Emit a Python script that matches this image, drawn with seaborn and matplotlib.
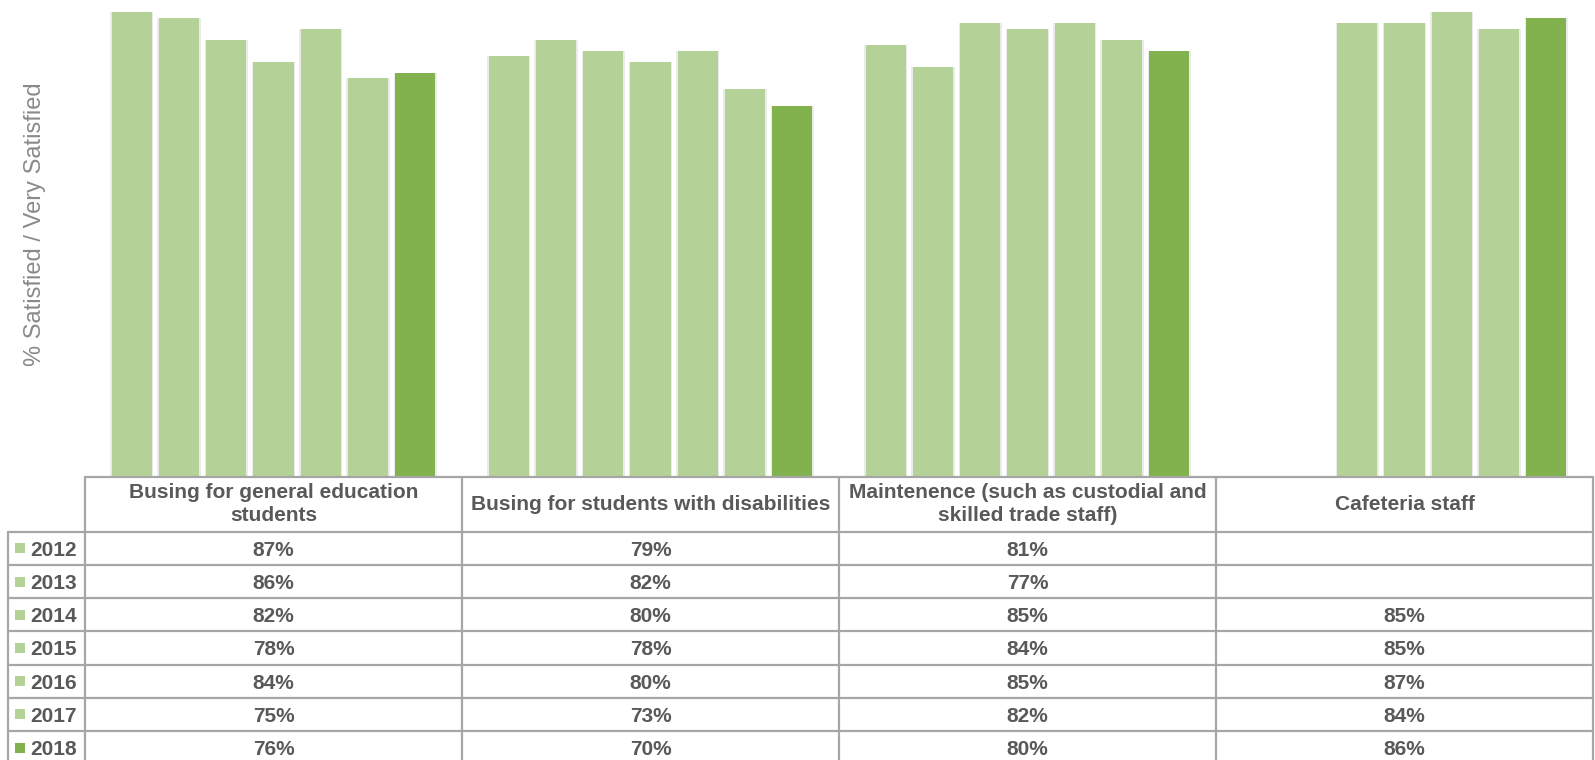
import numpy as np
import pandas as pd
import matplotlib
matplotlib.use("Agg")
import matplotlib.pyplot as plt
import matplotlib.patheffects as pe
import seaborn as sns

categories = [
    "Busing for general education\nstudents",
    "Busing for students with disabilities",
    "Maintenence (such as custodial and\nskilled trade staff)",
    "Cafeteria staff",
]
years = ["2012", "2013", "2014", "2015", "2016", "2017", "2018"]
v2012 = [87, 79, 81, None]
v2013 = [86, 82, 77, None]
v2014 = [82, 80, 85, 85]
v2015 = [78, 78, 84, 85]
v2016 = [84, 80, 85, 87]
v2017 = [75, 73, 82, 84]
v2018 = [76, 70, 80, 86]
series = [v2012, v2013, v2014, v2015, v2016, v2017, v2018]
colors = ["#B4D197"] * 6 + ["#82B24D"]

rows = []
for y, vals in zip(years, series):
    for c, v in zip(categories, vals):
        if v is not None:
            rows.append({"category": c, "year": y, "value": v})
df = pd.DataFrame(rows)

sns.set_theme(style="white")
plt.rcParams["font.family"] = ["Liberation Sans", "DejaVu Sans"]

W, H = 1595, 760
fig = plt.figure(figsize=(W / 100, H / 100), dpi=100)
ax_left, ax_right = 85, 1593
base_px = 476
ax = fig.add_axes([ax_left / W, (H - base_px) / H, (ax_right - ax_left) / W, base_px / H])

sns.barplot(data=df, x="category", y="value", hue="year", order=categories,
            hue_order=years, palette=colors, width=0.878, gap=0.154,
            dodge=True, legend=False, ax=ax, saturation=1, errorbar=None)
for p in ax.patches:
    p.set_linewidth(0)
    p.set_path_effects([pe.SimplePatchShadow(offset=(-1.2, 0), shadow_rgbFace="#000000", alpha=0.08),
                        pe.SimplePatchShadow(offset=(1.2, 0), shadow_rgbFace="#000000", alpha=0.08),
                        pe.Normal()])

ax.set_xlim(-0.5, 3.5)
ax.set_ylim(2.7, 2.7 + base_px / 5.5)
for s in ax.spines.values():
    s.set_visible(False)
ax.set_xticks([])
ax.set_yticks([])
ax.set_xlabel("")
ax.set_ylabel("% Satisfied / Very Satisfied", fontsize=17, color="#8a8a8a", va="center")
ax.yaxis.set_label_coords((35 - ax_left) / (ax_right - ax_left), (base_px - 224.5) / base_px)

# data table below the bars
top_px = 477
row_h = 33.2
head_h = 531.7 - top_px
tab_h = H - top_px
tax = fig.add_axes([ax_left / W, 0, (ax_right - ax_left) / W, tab_h / H])
y_top = -head_h / row_h
tax.set_xlim(-0.5, 3.5)
tax.set_ylim(y_top + tab_h / row_h, y_top)
tax.axis("off")

lc = "#A6A6A6"
lw = 1.6
tc = "#595959"
unit = ax_right - ax_left
x_rh = -0.5 - (ax_left - 8) / (unit / 4)
y_bot = len(years) + 1

tax.plot([-0.5, 3.5], [y_top, y_top], color=lc, lw=lw, clip_on=False)
for i in range(len(years) + 1):
    tax.plot([x_rh, 3.5], [i, i], color=lc, lw=lw, clip_on=False)
for xv in np.arange(-0.5, 3.6, 1.0):
    tax.plot([xv, xv], [y_top, y_bot], color=lc, lw=lw, clip_on=False)
tax.plot([x_rh, x_rh], [0, y_bot], color=lc, lw=lw, clip_on=False)

for j, c in enumerate(categories):
    tax.text(j, y_top / 2, c, ha="center", va="center", fontsize=15,
             fontweight="bold", color=tc, linespacing=1.25)

x_key = -0.5 - (ax_left - 20.5) / (unit / 4)
x_year = -0.5 - (ax_left - 30.5) / (unit / 4)
for i, (y, vals, col) in enumerate(zip(years, series, colors)):
    tax.scatter([x_key], [i + 0.5], marker="s", s=62, color=col, clip_on=False, linewidths=0)
    tax.text(x_year, i + 0.5, y, ha="left", va="center_baseline", fontsize=15,
             fontweight="bold", color=tc, clip_on=False)
    for j, v in enumerate(vals):
        if v is not None:
            tax.text(j, i + 0.5, f"{v:.0f}%", ha="center", va="center_baseline",
                     fontsize=15, fontweight="bold", color=tc)

fig.savefig("out.png", dpi=100)
